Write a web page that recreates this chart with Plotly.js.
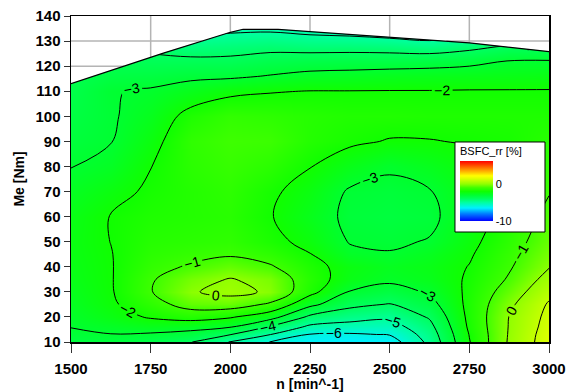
<!DOCTYPE html>
<html><head><meta charset="utf-8">
<script src="https://cdn.plot.ly/plotly-3.0.1.min.js"></script>
<style>html,body{margin:0;padding:0;background:#fff}#chart{width:573px;height:392px}</style>
</head><body><div id="chart"></div>
<script>
// engine speed columns [min^-1]
const speedN = [1500,1625,1750,1875,2000,2125,2250,2375,2500,2625,2750,2875,3000];
// torque rows [Nm]
const torqueMe = [10,13,16,20,25,30,35,40,45,50,60,70,80,90,100,110,116,122,128,134,140];
// BSFC_rr [%] read per speed column (bottom -> top)
const bsfc1500 = [-3.35,-3.15,-2.98,-2.85,-2.7,-2.6,-2.5,-2.45,-2.4,-2.38,-2.45,-2.7,-3.02,-3.25,-3.4,-3.55,-3.65,-3.8,-4.0,-4.3,-4.6];
const bsfc1625 = [-3.25,-3.02,-2.8,-2.4,-2.15,-2.08,-2.06,-2.05,-2.03,-1.99,-1.97,-2.3,-2.75,-3.03,-3.1,-3.05,-3.4,-3.7,-4.02,-4.3,-4.6];
const bsfc1750 = [-3.5,-3.1,-2.6,-1.9,-1.4,-1.05,-1.1,-1.3,-1.45,-1.55,-1.7,-1.85,-2.02,-2.3,-2.6,-2.9,-3.35,-3.8,-4.2,-4.6,-5.02];
const bsfc1875 = [-3.95,-3.3,-2.7,-1.6,-0.6,-0.08,-0.35,-0.9,-1.25,-1.45,-1.6,-1.6,-1.45,-1.35,-1.7,-2.55,-3.2,-3.8,-4.5,-5.2,-5.8];
const bsfc2000 = [-5.05,-3.97,-2.95,-1.9,-0.5,0.25,0.05,-0.55,-1.1,-1.35,-1.5,-1.4,-1.2,-1.05,-1.3,-2.2,-3.15,-3.8,-4.4,-5.1,-5.8];
const bsfc2125 = [-6.02,-4.98,-4.1,-2.6,-1.15,-0.12,-0.3,-0.9,-1.4,-1.75,-1.95,-1.85,-1.45,-1.1,-1.4,-2.05,-2.95,-3.6,-4.3,-5.05,-5.7];
const bsfc2250 = [-6.45,-6.05,-5.2,-4.2,-2.75,-1.7,-1.55,-1.7,-1.97,-2.25,-2.55,-2.35,-1.97,-1.6,-1.55,-1.98,-2.75,-3.5,-4.4,-5.2,-5.9];
const bsfc2375 = [-6.6,-6.1,-5.4,-4.6,-3.75,-3.05,-2.45,-2.35,-2.8,-3.05,-3.2,-3.1,-2.5,-1.85,-1.65,-1.98,-2.7,-3.45,-4.4,-5.3,-6.02];
const bsfc2500 = [-6.5,-5.95,-5.45,-4.8,-4.05,-3.4,-2.8,-2.65,-2.95,-3.12,-3.3,-3.2,-2.9,-2.05,-1.65,-1.97,-2.6,-3.45,-4.45,-5.5,-6.2];
const bsfc2625 = [-4.75,-4.55,-4.3,-3.9,-3.35,-2.9,-2.55,-2.45,-2.65,-2.95,-3.2,-3.05,-2.6,-2.03,-1.7,-1.97,-2.55,-3.4,-4.6,-5.7,-6.5];
const bsfc2750 = [-2.05,-1.97,-1.85,-1.78,-1.75,-1.8,-1.88,-1.97,-2.1,-2.25,-2.45,-2.4,-2.2,-1.95,-1.7,-1.95,-2.5,-3.25,-4.3,-5.4,-6.5];
const bsfc2875 = [0.12,0.08,0.05,0.02,-0.2,-0.55,-0.9,-1.1,-1.25,-1.4,-1.65,-1.8,-1.9,-1.85,-1.7,-1.95,-2.45,-2.97,-3.95,-5.3,-6.5];
const bsfc3000 = [1.5,1.45,1.35,1.25,1.1,0.75,0.35,-0.05,-0.3,-0.5,-0.75,-1.05,-1.3,-1.5,-1.7,-1.95,-2.4,-2.95,-3.95,-5.3,-6.5];
// full-load curve (upper limit of the map)
const fullLoadN  = [1500,1790,2000,2040,2150,2500,2750,3000];
const fullLoadMe = [113,125.2,133.5,134.7,134.7,131.7,129.3,125.8];
// axes
const xTickVals = [1500,1750,2000,2250,2500,2750,3000];
const yTickVals = [10,20,30,40,50,60,70,80,90,100,110,120,130,140];
const cbTickVals = [-10,0];
const cbTickText = ['-10','0'];

const columns = [bsfc1500,bsfc1625,bsfc1750,bsfc1875,bsfc2000,bsfc2125,bsfc2250,bsfc2375,bsfc2500,bsfc2625,bsfc2750,bsfc2875,bsfc3000];
const z = torqueMe.map((_, i) => columns.map(col => col[i]));

const colorscale = [[0,'#0000ff'],[0.123,'#0080ff'],[0.216,'#00f0ff'],[0.309,'#00ffa0'],[0.37,'#00ff60'],[0.432,'#00ff30'],[0.494,'#10ff00'],[0.556,'#40ff00'],[0.617,'#90ff00'],[0.71,'#e0ff00'],[0.753,'#ffff00'],[0.86,'#ff9000'],[1,'#ff0000']];

function boundaryAt(n){
  for(let i=0;i<fullLoadN.length-1;i++){
    if(n>=fullLoadN[i] && n<=fullLoadN[i+1]){
      const t=(n-fullLoadN[i])/(fullLoadN[i+1]-fullLoadN[i]);
      return fullLoadMe[i]+t*(fullLoadMe[i+1]-fullLoadMe[i]);
    }
  }
  return fullLoadMe[fullLoadMe.length-1];
}
const xr=[xTickVals[0], xTickVals[xTickVals.length-1]];
const yr=[yTickVals[0], yTickVals[yTickVals.length-1]];
// grid segments visible only above the full-load curve
const gx=[], gy=[];
xTickVals.slice(1,-1).forEach(v=>{ const b=boundaryAt(v); if(b<yr[1]){gx.push(v,v,null); gy.push(b,yr[1],null);} });
yTickVals.slice(0,-1).forEach(v=>{
  let start=null;
  for(let n=xr[0]; n<=xr[1]+0.001; n+=2){
    const above = boundaryAt(n) < v;
    if(above && start===null) start=n;
    if((!above || n>=xr[1]) && start!==null){ gx.push(start, above? n : n-2, null); gy.push(v,v,null); start=null; }
  }
});

const fontFam = 'Liberation Sans, Arial, sans-serif';
const data = [
  {type:'heatmap', x:speedN, y:torqueMe, z:z, zsmooth:'best', colorscale:colorscale, zmin:-10, zmax:6.2,
   hoverinfo:'skip',
   colorbar:{thickness:33, thicknessmode:'pixels', len:77, lenmode:'pixels', x:0.8138, xanchor:'left', y:0.607, yanchor:'top',
     xpad:0, ypad:0, outlinewidth:0, borderwidth:0, bgcolor:'rgba(0,0,0,0)',
     tickvals:cbTickVals, ticktext:cbTickText, ticks:'', tickfont:{family:fontFam,size:11,color:'#000'},
     title:{text:'BSFC_rr [%]', side:'top', font:{family:fontFam,size:11,color:'#000'}}}},
  {type:'contour', x:speedN, y:torqueMe, z:z, showscale:false, hoverinfo:'skip',
   contours:{coloring:'none', start:-6, end:1, size:1, showlabels:true, labelfont:{family:fontFam,size:14,color:'#000'}},
   line:{color:'#000', width:1, smoothing:1}},
  {type:'scatter', mode:'lines', x:fullLoadN.concat([xr[1],xr[0]]), y:fullLoadMe.concat([yr[1]+5,yr[1]+5]),
   fill:'toself', fillcolor:'#ffffff', line:{width:0}, hoverinfo:'skip', showlegend:false},
  {type:'scatter', mode:'lines', x:gx, y:gy, line:{color:'#b4b4b4', width:1.5}, hoverinfo:'skip', showlegend:false},
  {type:'scatter', mode:'lines', x:fullLoadN, y:fullLoadMe, line:{color:'#000', width:1.2}, hoverinfo:'skip', showlegend:false}
];
const axisFont = {family:fontFam, size:15, color:'#000', weight:'bold'};
const titleFont = {family:fontFam, size:14, color:'#000', weight:'bold'};
const layout = {
  width:573, height:392, margin:{l:71,r:24,t:16,b:50},
  paper_bgcolor:'#fff', plot_bgcolor:'#fff', showlegend:false,
  xaxis:{range:xr, tickvals:xTickVals, showgrid:false, zeroline:false, ticks:'outside', ticklen:9, tickcolor:'#333',
    ticklabelstandoff:3, showline:true, linecolor:'#000', linewidth:1.5, mirror:true, tickfont:axisFont,
    title:{text:'n [min^-1]', font:titleFont, standoff:1}},
  yaxis:{range:yr, tickvals:yTickVals, showgrid:false, zeroline:false, ticks:'outside', ticklen:6, tickcolor:'#333',
    showline:true, linecolor:'#000', linewidth:1.5, mirror:true, tickfont:axisFont,
    title:{text:'Me [Nm]', font:titleFont, standoff:7}},
  shapes:[{type:'rect', xref:'paper', yref:'paper', x0:0.8033, x1:0.9916, y0:0.3374, y1:0.6135,
    fillcolor:'#fff', line:{color:'#000', width:1}, layer:'above'}]
};
Plotly.newPlot('chart', data, layout, {displayModeBar:false, staticPlot:true});
</script></body></html>
